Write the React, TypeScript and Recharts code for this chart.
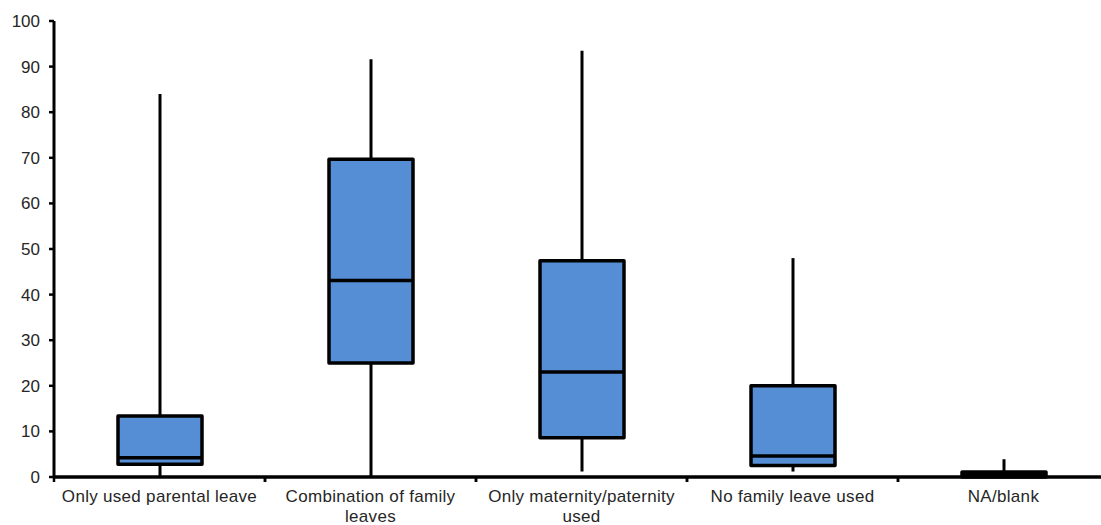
import React from "react";
import { ComposedChart, Bar, XAxis, YAxis, Text, ReferenceLine } from "recharts";

const categories = [
  "Only used parental leave",
  "Combination of family leaves",
  "Only maternity/paternity used",
  "No family leave used",
  "NA/blank",
];
const minValues = [0, 0, 1.2, 1.2, 0];
const q1Values = [2.8, 25, 8.6, 2.5, 0];
const medianValues = [4.2, 43.1, 23, 4.6, 0.5];
const q3Values = [13.4, 69.7, 47.4, 20, 1.1];
const maxValues = [84, 91.6, 93.5, 48, 3.9];
const yTicks = [0, 10, 20, 30, 40, 50, 60, 70, 80, 90, 100];

const data = categories.map((name, i) => ({
  name,
  min: minValues[i],
  q1: q1Values[i],
  median: medianValues[i],
  q3: q3Values[i],
  max: maxValues[i],
}));

const FILL = "#558ED5";
const FONT = "'Liberation Sans', Arial, sans-serif";

const BoxShape = (props: any) => {
  const { x, y, width, height, payload } = props;
  const top = Math.min(y, y + height);
  const bottom = Math.max(y, y + height);
  const span = payload.max - payload.min;
  const px = (v: number) => bottom - ((bottom - top) * (v - payload.min)) / span;
  const cx = x + width / 2;
  const yQ1 = px(payload.q1);
  const yQ3 = px(payload.q3);
  const yMed = px(payload.median);
  return (
    <g>
      <line x1={cx} x2={cx} y1={px(payload.max)} y2={px(payload.min)} stroke="#000" strokeWidth={3} />
      <rect
        x={x}
        y={yQ3}
        width={width}
        height={Math.max(yQ1 - yQ3, 0.1)}
        fill={FILL}
        stroke="#000"
        strokeWidth={3.5}
        strokeLinejoin="round"
      />
      <line x1={x} x2={x + width} y1={yMed} y2={yMed} stroke="#000" strokeWidth={3.5} />
    </g>
  );
};

const TICK_MARGIN = 13;

const CatTick = (props: any) => {
  const { x, y, payload } = props;
  const offset = payload && typeof payload.offset === "number" ? payload.offset : 0;
  const axisY = y - TICK_MARGIN;
  const bx = payload.coordinate - offset;
  return (
    <g>
      {offset > 0 && (
        <>
          <line x1={bx} x2={bx} y1={axisY} y2={axisY + 5} stroke="#000" strokeWidth={2.5} />
          <line x1={bx + 2 * offset} x2={bx + 2 * offset} y1={axisY} y2={axisY + 5} stroke="#000" strokeWidth={2.5} />
        </>
      )}
      <Text
        x={x}
        y={y}
        width={200}
        textAnchor="middle"
        verticalAnchor="start"
        lineHeight={20}
        style={{ fontFamily: FONT, fontSize: 17, fill: "#262626", letterSpacing: 0.3 }}
      >
        {payload.value}
      </Text>
    </g>
  );
};

export default function App() {
  return (
    <div style={{ position: "absolute", left: 0, top: 0, width: 1101, height: 525, overflow: "hidden", background: "#fff" }}>
      <ComposedChart
        width={1115}
        height={525}
        data={data}
        margin={{ top: 21, right: 6, bottom: 0, left: 0 }}
        barCategoryGap={0}
      >
        <XAxis
          dataKey="name"
          type="category"
          height={48}
          axisLine={{ stroke: "#000", strokeWidth: 3 }}
          tickLine={false}
          tickSize={0}
          tick={CatTick}
          interval={0}
          tickMargin={TICK_MARGIN}
        />
        <YAxis
          type="number"
          domain={[0, 100]}
          ticks={yTicks}
          width={54}
          tickSize={5}
          tickMargin={9}
          tickLine={{ stroke: "#000", strokeWidth: 2.5 }}
          axisLine={{ stroke: "#000", strokeWidth: 3 }}
          tick={{ fontFamily: FONT, fontSize: 17, fill: "#262626" }}
          interval={0}
        />
        <Bar
          dataKey={(d: any) => [d.min, d.max]}
          barSize={84}
          shape={<BoxShape />}
          isAnimationActive={false}
        />
        <ReferenceLine y={0} stroke="#000" strokeWidth={3} ifOverflow="visible" />
      </ComposedChart>
    </div>
  );
}
